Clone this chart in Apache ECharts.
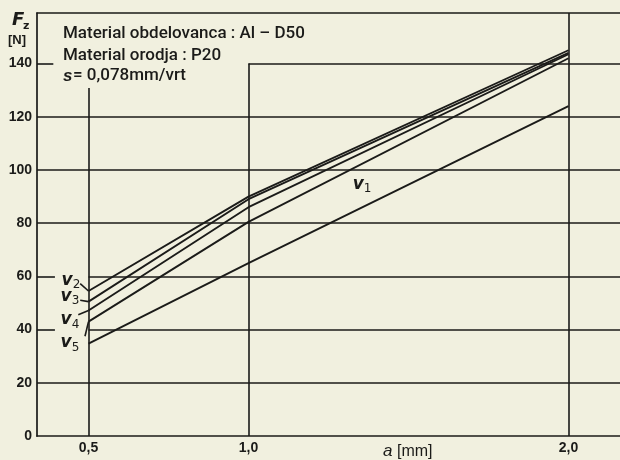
<!DOCTYPE html>
<html>
<head>
<meta charset="utf-8">
<script src="https://cdn.jsdelivr.net/npm/echarts@6/dist/echarts.min.js"></script>
<style>
html,body{margin:0;padding:0;background:#f1f0df;}
#c{width:620px;height:460px;}
</style>
</head>
<body>
<div id="c"></div>
<script>
// ---- data ----
const aValues = [0.5, 1.0, 2.0];           // depth of cut a [mm]
const v1 = [34.7, 65, 124];
const v2 = [54.5, 90, 145];
const v3 = [50.5, 89, 144];
const v4 = [47.2, 86, 143.5];
const v5 = [43, 80.5, 142];
const seriesNames = ['v1', 'v2', 'v3', 'v4', 'v5'];
const xTicks = [0.5, 1.0, 2.0];
const yTicks = [0, 20, 40, 60, 80, 100, 120, 140];
const infoLines = ['Material obdelovanca : Al \u2013 D50', 'Material orodja : P20'];

// ---- chart ----
const INK = '#1b1b19';
const X_MIN = 0.339, X_MAX = 2.161, Y_MAX = 159;
const chart = echarts.init(document.getElementById('c'), null, {renderer: 'canvas'});

function pair(x, y) { return xTicks.map((_, i) => [x[i], y[i]]); }
function seg(x1, y1, x2, y2) { return [{coord: [x1, y1]}, {coord: [x2, y2]}]; }

// grid lines (with the gaps of the original)
const gridSegs = [];
yTicks.forEach(v => {
  if (v === 0) return;
  if (v === 140) { gridSegs.push(seg(X_MIN, v, 0.39, v)); gridSegs.push(seg(1.0, v, X_MAX, v)); }
  else if (v === 60 || v === 40) { gridSegs.push(seg(X_MIN, v, 0.395, v)); gridSegs.push(seg(0.5, v, X_MAX, v)); }
  else gridSegs.push(seg(X_MIN, v, X_MAX, v));
});
gridSegs.push(seg(0.5, 0, 0.5, 130.8));
gridSegs.push(seg(1.0, 0, 1.0, 140));
gridSegs.push(seg(2.0, 0, 2.0, Y_MAX));

const labelPos = {
  v1: [1.355, 94.4], v2: [0.445, 58.6], v3: [0.442, 52.3], v4: [0.442, 43.6], v5: [0.442, 35]
};
const leaders = {
  v1: null,
  v2: seg(0.474, 57.3, 0.5, 54.5),
  v3: seg(0.474, 51.0, 0.5, 50.5),
  v4: seg(0.468, 45.6, 0.5, 47.2),
  v5: seg(0.489, 37.5, 0.5, 43)
};
const seriesData = {v1, v2, v3, v4, v5};

const series = seriesNames.map((name, idx) => {
  const s = {
    name, type: 'line', data: pair(aValues, seriesData[name]),
    symbol: 'none', lineStyle: {color: INK, width: 1.9}, silent: true, z: 3,
    markPoint: {
      symbol: 'circle', symbolSize: 0, silent: true,
      label: {
        show: true, position: 'inside',
        formatter: '{v|v}{s|' + name.slice(1) + '}',
        rich: {
          v: {fontStyle: 'italic', fontSize: 17, fontFamily: 'DejaVu Sans', color: INK, fontWeight: 'bold'},
          s: {fontSize: 12, fontFamily: 'DejaVu Sans', color: INK, padding: [9, 0, 0, 0]}
        }
      },
      data: [{coord: labelPos[name]}]
    }
  };
  const ml = [];
  if (leaders[name]) ml.push(leaders[name]);
  if (idx === 0) gridSegs.forEach(g => ml.push(g));
  s.markLine = {
    silent: true, symbol: 'none', animation: false,
    lineStyle: {color: INK, width: 1.6, type: 'solid'},
    label: {show: false}, data: ml
  };
  return s;
});

const TXT = '500 17px Roboto, "Liberation Sans"';
const option = {
  backgroundColor: '#f1f0df',
  animation: false,
  grid: {left: 37, right: 0, top: 13, bottom: 24, containLabel: false},
  xAxis: [{
    type: 'value', min: X_MIN, max: X_MAX,
    axisLine: {show: true, lineStyle: {color: INK, width: 1.7}},
    axisTick: {show: false}, splitLine: {show: false},
    axisLabel: {
      customValues: xTicks, margin: 5, color: INK, fontSize: 14, fontWeight: 'bold',
      fontFamily: 'Liberation Sans',
      formatter: v => v.toFixed(1).replace('.', ',')
    }
  }, {
    type: 'value', position: 'top', min: X_MIN, max: X_MAX,
    axisLine: {show: true, onZero: false, lineStyle: {color: INK, width: 1.6}},
    axisTick: {show: false}, axisLabel: {show: false}, splitLine: {show: false}
  }],
  yAxis: {
    type: 'value', min: 0, max: Y_MAX,
    axisLine: {show: true, lineStyle: {color: INK, width: 1.7}},
    axisTick: {show: false}, splitLine: {show: false},
    axisLabel: {
      customValues: yTicks, margin: 5, color: INK, fontSize: 14, fontWeight: 'bold',
      fontFamily: 'Liberation Sans'
    }
  },
  graphic: [
    {type: 'text', style: {x: 12, y: 20, text: 'F', font: 'italic bold 18px "DejaVu Sans"', fill: INK, verticalAlign: 'middle'}},
    {type: 'text', style: {x: 23, y: 26, text: 'z', font: 'bold 11px "DejaVu Sans"', fill: INK, verticalAlign: 'middle'}},
    {type: 'text', style: {x: 8, y: 40, text: '[N]', font: 'bold 13px "Liberation Sans"', fill: INK, verticalAlign: 'middle'}},
    {type: 'text', style: {x: 63, y: 34, text: infoLines[0], font: TXT, fill: INK, verticalAlign: 'middle'}},
    {type: 'text', style: {x: 63, y: 56, text: infoLines[1], font: TXT, fill: INK, verticalAlign: 'middle'}},
    {type: 'text', style: {x: 63, y: 76, text: 's', font: 'italic bold 17px "Liberation Sans"', fill: INK, verticalAlign: 'middle'}},
    {type: 'text', style: {x: 73, y: 76, text: '= 0,078mm/vrt', font: TXT, fill: INK, verticalAlign: 'middle'}},
    {type: 'text', style: {x: 383, y: 451, text: 'a', font: 'italic 17px "Liberation Sans"', fill: INK, verticalAlign: 'middle'}},
    {type: 'text', style: {x: 397, y: 452, text: '[mm]', font: '16px "Liberation Sans"', fill: INK, verticalAlign: 'middle'}}
  ],
  series
};
chart.setOption(option);
</script>
</body>
</html>
